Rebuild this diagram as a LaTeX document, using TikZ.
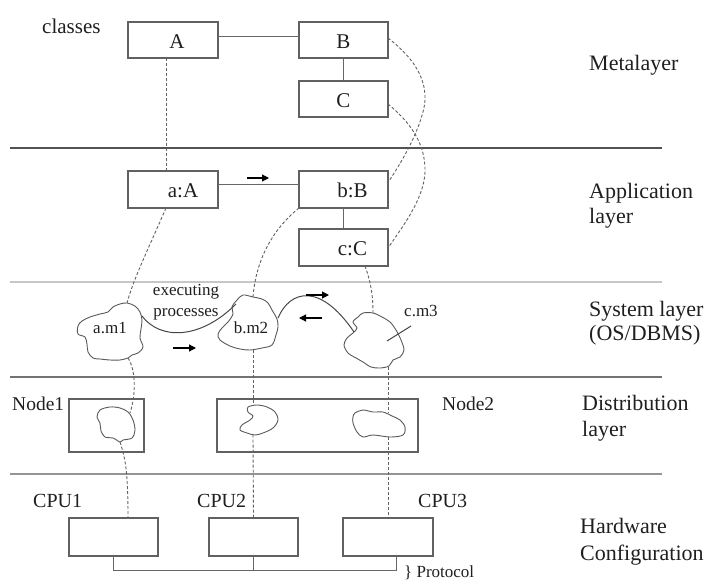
\documentclass[tikz,border=0pt]{standalone}
\usepackage{fontspec}
\setmainfont{Liberation Serif}
\usetikzlibrary{arrows.meta}
\begin{document}
\begin{tikzpicture}[x=1pt,y=-1pt,
  box/.style n args={2}{draw=black!62, line width=1.1pt, minimum width=#1pt, minimum height=#2pt, inner sep=0pt, outer sep=0pt},
  wire/.style={draw=black!60, line width=0.9pt},
  link/.style={draw=black!62, line width=0.9pt, dash pattern=on 3pt off 2pt},
  flow/.style={draw=black!72, line width=1pt},
  blob/.style={draw=black!65, line width=0.9pt},
  dir/.style={draw=black, line width=1.2pt, -{Triangle[length=7pt,width=7pt]}},
  sep/.style={line width=1.3pt},
  lab/.style={inner sep=0pt, anchor=base, text=black!88, font=\fontsize{21}{24}\selectfont},
  small/.style={inner sep=0pt, anchor=base, text=black!88, font=\fontsize{17}{20}\selectfont},
  side/.style={inner sep=0pt, anchor=base west, text=black!88, font=\fontsize{22}{25}\selectfont},
  tag/.style={inner sep=0pt, anchor=base west, text=black!88, font=\fontsize{19.5}{22}\selectfont}
]
\useasboundingbox (0,0) rectangle (705,581);

% layer separators
\draw[sep, draw=black!68] (10,148) -- (662,148);
\draw[sep, draw=black!22] (10,282) -- (662,282);
\draw[sep, draw=black!55] (10,377) -- (662,377);
\draw[sep, draw=black!42] (10,474) -- (662,474);

% layer names
\node[side] (tMeta)  at (589,70)  {Metalayer};
\node[side] (tApp1)  at (589,198) {Application};
\node[side] (tApp2)  at (589,223) {layer};
\node[side] (tSys1)  at (589,316) {System layer};
\node[side] (tSys2)  at (589,340) {(OS/DBMS)};
\node[side] (tDist1) at (582,410) {Distribution};
\node[side] (tDist2) at (582,436) {layer};
\node[side] (tHw1)   at (580,533) {Hardware};
\node[side] (tHw2)   at (580,560) {Configuration};

% metalayer classes
\node[tag, font=\fontsize{21}{24}\selectfont] (tClasses) at (42,33) {classes};
\node[box={90}{36}] (A) at (173,40) {};
\node[box={89}{36}] (B) at (343.5,40) {};
\node[box={89}{36}] (C) at (343.5,99) {};
\node[lab] (lA) at ([xshift=4pt,yshift=-8pt]A.center) {A};
\node[lab] (lB) at ([yshift=-8pt]B.center) {B};
\node[lab] (lC) at ([yshift=-8pt]C.center) {C};
\draw[wire] ([yshift=4pt]A.east) -- ([yshift=4pt]B.west);
\draw[wire] (B.south) -- (C.north);

% application objects
\node[box={90}{37}] (aA) at (173,189.5) {};
\node[box={89}{37}] (bB) at (343.5,189.5) {};
\node[box={89}{37}] (cC) at (343.5,247.5) {};
\node[lab] (laA) at ([xshift=10pt,yshift=-7.5pt]aA.center) {a:A};
\node[lab] (lbB) at ([xshift=9pt,yshift=-7.5pt]bB.center) {b:B};
\node[lab] (lcC) at ([xshift=9pt,yshift=-7.5pt]cC.center) {c:C};
\draw[wire] ([yshift=5.5pt]aA.east) -- ([yshift=5.5pt]bB.west);
\draw[wire] (bB.south) -- (cC.north);
\draw[dir] (247,178) -- (269,178);

% instance-of links between the two upper layers
\draw[link] ([xshift=-7pt]A.south) -- ([xshift=-7pt]aA.north);
\draw[link] ([yshift=2pt]B.east) .. controls (410,55) and (426,75) .. (425,100)
            .. controls (424,118) and (410,150) .. ([yshift=7pt]bB.east);
\draw[link] ([yshift=-5pt]C.east) .. controls (405,118) and (426,140) .. (425,172)
            .. controls (424,200) and (400,230) .. ([yshift=-0.5pt]cC.east);

% executing processes
\draw[blob] plot[smooth cycle, tension=0.55] coordinates {(127,303) (135,306) (140,312) (142,320) (141,329) (140,338) (143,347) (138,353) (132,355) (128,358) (120,360) (110,360) (100,359) (93,358) (88,352) (87,344) (85,337) (78,334) (78,326) (82,321) (90,317) (100,314) (108,312) (113,307) (120,304)};
\draw[blob] plot[smooth cycle, tension=0.55] coordinates {(237,300) (243,295) (253,297) (262,299) (268,303) (272,310) (277,319) (278,327) (276,335) (272,345) (262,348) (250,350) (240,349) (230,346) (220,340) (218,334) (222,328) (228,322) (233,314) (232,307)};
\draw[blob] plot[smooth cycle, tension=0.55] coordinates {(358,317) (363,313) (373,313) (382,317) (390,322) (396,330) (401,340) (404,350) (400,357) (393,360) (389,366) (380,368) (371,367) (363,362) (356,358) (348,353) (344,345) (347,338) (353,333) (357,328) (353,322)};
\node[small] (am1) at (110,333) {a.m1};
\node[small] (bm2) at (251,333) {b.m2};
\node[small, anchor=base west] (cm3) at (404,316) {c.m3};
\node[small] (exec1) at (186,295) {executing};
\node[small] (exec2) at (186,316) {processes};
\coordinate (am1top) at (127,303);
\coordinate (am1right) at (142,316);
\coordinate (am1bot) at (128,358);
\coordinate (bm2top) at (253,297);
\coordinate (bm2left) at (236,304);
\coordinate (bm2right) at (278,318);
\coordinate (bm2bot) at (253,350);
\coordinate (cm3top) at (373,313);
\coordinate (cm3left) at (354,332);
\coordinate (cm3bot) at (388,367);
\coordinate (cm3lead) at (387,341);
\coordinate (cm3tip) at (411,326);
\draw[flow] (am1right) .. controls (160,340) and (200,340) .. (bm2left);
\draw[flow] (bm2right) .. controls (290,290) and (320,282) .. (cm3left);
\draw[flow] (cm3lead) -- (cm3tip);
\draw[dir] (173,348) -- (196,348);
\draw[dir] (322,318) -- (299,318);
\draw[dir] (306,295) -- (329,295);

% links from objects to processes
\draw[link] ([xshift=-7pt]aA.south) .. controls (150,245) and (133,280) .. (am1top);
\draw[link] (bB.south west) .. controls (272,230) and (256,260) .. (bm2top);
\draw[link] ([xshift=21.5pt]cC.south) .. controls (372,285) and (373,300) .. (cm3top);

% distribution nodes
\node[tag] (tNode1) at (12,410) {Node1};
\node[tag] (tNode2) at (442,410) {Node2};
\node[box={75}{53}] (n1) at (106.5,425.5) {};
\node[box={201}{53}] (n2) at (317.5,425.5) {};
\draw[blob] plot[smooth cycle, tension=0.55] coordinates {(100,410) (110,407) (120,408) (128,412) (133,420) (135,430) (132,438) (123,440) (120,442) (113,438) (105,437) (101,431) (100,423) (97,417)};
\draw[blob] plot[smooth cycle, tension=0.55] coordinates {(248,407) (257,405) (267,407) (275,412) (278,420) (273,428) (263,433) (255,435) (247,433) (240,430) (242,425) (250,420) (253,416) (248,412)};
\draw[blob] plot[smooth cycle, tension=0.55] coordinates {(355,413) (363,410) (373,412) (383,412) (392,416) (400,420) (405,427) (403,435) (390,437) (373,435) (363,437) (357,432) (353,423) (353,417)};
\coordinate (p1in) at (130,413);
\coordinate (p1out) at (120,442);
\coordinate (p2in) at (253,406);
\coordinate (p2out) at (253,434.5);
\coordinate (p3in) at (388,413);
\coordinate (p3out) at (388,437);

% hardware
\node[tag, font=\fontsize{20}{23}\selectfont] (tCpu1) at (33,507) {CPU1};
\node[tag, font=\fontsize{20}{23}\selectfont] (tCpu2) at (197,507) {CPU2};
\node[tag, font=\fontsize{20}{23}\selectfont] (tCpu3) at (418,507) {CPU3};
\node[box={89}{38}] (cpu1) at (113.5,537) {};
\node[box={89}{38}] (cpu2) at (253.5,537) {};
\node[box={90}{38}] (cpu3) at (388,537) {};
\draw[wire] (cpu1.south) -- ++(0,14) -| ([xshift=8pt]cpu3.south);
\draw[wire] (cpu2.south) -- ++(0,14);
\node[small, anchor=base west] (tProto) at (404,577) {\} Protocol};

% processes mapped to nodes and processors
\draw[link] (am1bot) .. controls (136,370) and (136,395) .. (p1in);
\draw[link] (p1out) .. controls (126,460) and (128,475) .. ([xshift=14.5pt]cpu1.north);
\draw[link] (bm2bot) -- (p2in);
\draw[link] (p2out) -- (cpu2.north);
\draw[link] (cm3bot) -- (p3in);
\draw[link] (p3out) -- (cpu3.north);
\end{tikzpicture}
\end{document}
